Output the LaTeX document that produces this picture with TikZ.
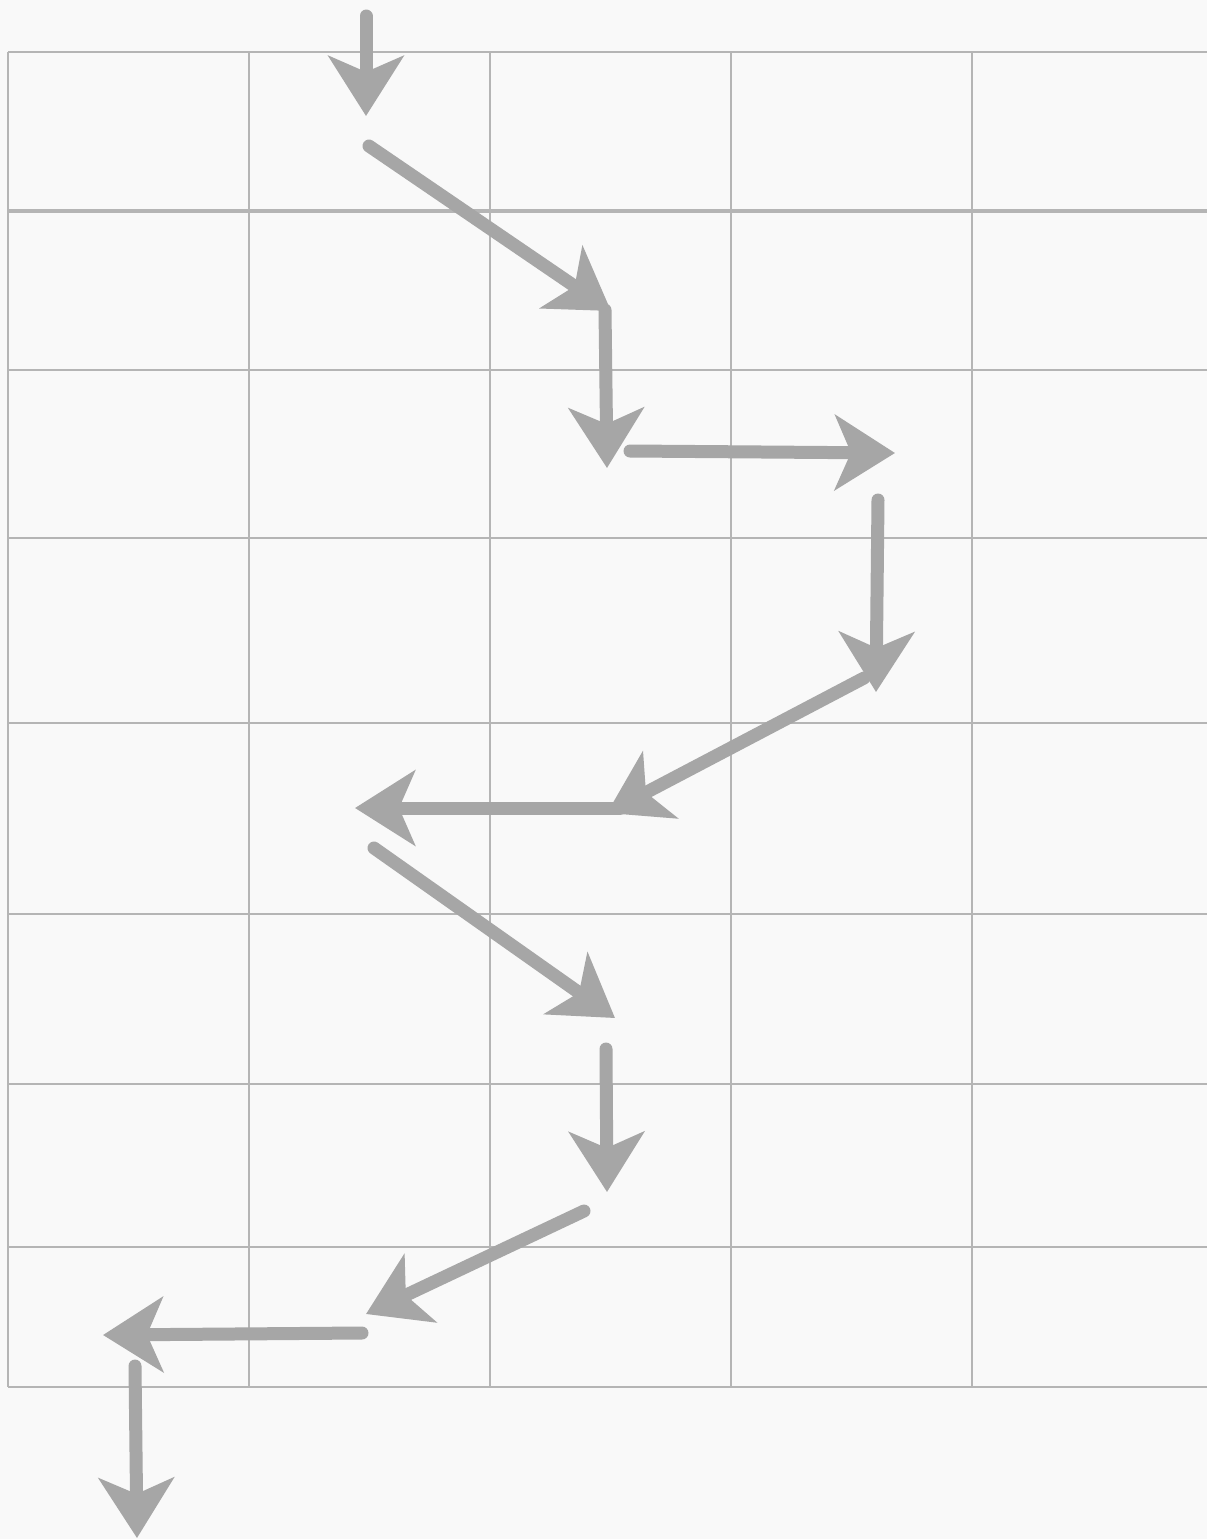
\documentclass[tikz,border=0pt]{standalone}
\usepackage{xcolor}
\usepackage{tikz}
\usetikzlibrary{arrows.meta}

\definecolor{paper}{HTML}{F9F9F9}
\definecolor{gridgray}{HTML}{B5B5B5}
\definecolor{pencil}{HTML}{A6A6A6}

\begin{document}
\begin{tikzpicture}[
    x=0.02cm, y=-0.02cm,
    gridline/.style={draw=gridgray, line width=0.05cm},
    thickgrid/.style={draw=gridgray, line width=0.09cm},
    arrow/.style={-{Stealth[length=1.2cm, width=1.5cm, inset=0.32cm]}, draw=pencil, line width=0.26cm, line cap=round}
]
\fill[paper] (0,0) rectangle (1207,1539);
\useasboundingbox (0,0) rectangle (1207,1539);

% grid
\foreach \gy in {52,370,538,723,914,1084,1247,1387}
    \draw[gridline] (8,\gy) -- (1207,\gy);
\draw[thickgrid] (8,211) -- (1207,211);
\foreach \gx in {8,249,490,731,972}
    \draw[gridline] (\gx,52) -- (\gx,1387);

% arrow ends
\coordinate (a1s) at (366,16);   \coordinate (a1e) at (366,116);
\coordinate (a2s) at (369,146);  \coordinate (a2e) at (611,311);
\coordinate (a3s) at (605,310);  \coordinate (a3e) at (607,468);
\coordinate (a4s) at (630,451);  \coordinate (a4e) at (895,453);
\coordinate (a5s) at (878,500);  \coordinate (a5e) at (876,692);
\coordinate (a6s) at (864,678);  \coordinate (a6e) at (607,813);
\coordinate (a7s) at (620,808);  \coordinate (a7e) at (355,808);
\coordinate (a8s) at (374,848);  \coordinate (a8e) at (615,1018);
\coordinate (a9s) at (606,1049); \coordinate (a9e) at (607,1192);
\coordinate (a10s) at (584,1211); \coordinate (a10e) at (366,1314);
\coordinate (a11s) at (362,1333); \coordinate (a11e) at (103,1335);
\coordinate (a12s) at (135,1366); \coordinate (a12e) at (137,1538);

% zigzag path
\foreach \i in {1,...,12}
    \draw[arrow] (a\i s) -- (a\i e);
\end{tikzpicture}
\end{document}
